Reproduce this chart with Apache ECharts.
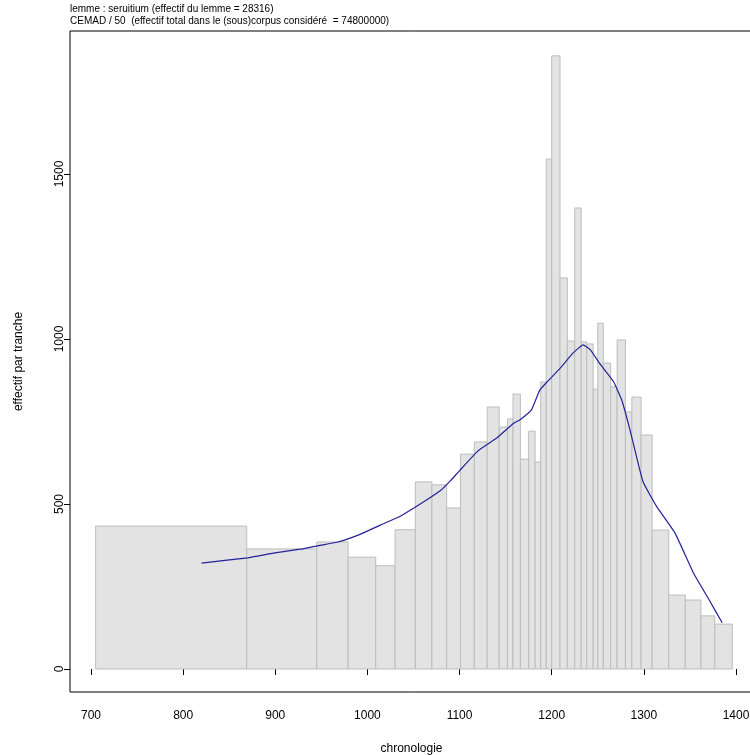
<!DOCTYPE html>
<html>
<head>
<meta charset="utf-8">
<script src="https://cdn.jsdelivr.net/npm/echarts@6/dist/echarts.min.js"></script>
<style>
html,body{margin:0;padding:0;background:#fff;}
#chart{width:750px;height:755px;}
</style>
</head>
<body>
<div id="chart"></div>
<script>
// Bin edges (years) of the histogram
var binEdges = [705, 869, 945, 979, 1009, 1030, 1052, 1070, 1086, 1101, 1116, 1130, 1143, 1152, 1158, 1166, 1175, 1182, 1188, 1194, 1200, 1209, 1217, 1225, 1232, 1238, 1245, 1250, 1256, 1264, 1271, 1280, 1287, 1297, 1309, 1327, 1345, 1362, 1377, 1396];
// Count per bin ("effectif par tranche")
var binCounts = [433, 364, 385, 339, 313, 422, 567, 558, 488, 651, 688, 794, 733, 758, 833, 636, 721, 627, 870, 1545, 1858, 1185, 994, 1397, 991, 985, 848, 1048, 927, 855, 997, 779, 824, 709, 421, 224, 209, 161, 136];
// Smoothed curve
var curveYears = [820, 870, 898, 927, 947, 967, 992, 1014, 1035, 1050, 1062, 1079, 1090, 1100, 1120, 1140, 1158, 1166, 1178, 1187, 1195, 1209, 1223, 1234, 1242, 1252, 1267, 1276, 1285, 1299, 1314, 1334, 1354, 1372, 1385];
var curveValues = [321, 337, 351, 363, 374, 384, 408, 436, 462, 487, 508, 540, 570, 601, 661, 699, 743, 756, 785, 845, 870, 911, 957, 982, 967, 926, 871, 815, 724, 568, 492, 411, 290, 204, 140];
// Tick labels
var xTicks = [700, 800, 900, 1000, 1100, 1200, 1300, 1400];
var yTicks = [0, 500, 1000, 1500];

var titleLine1 = "lemme : seruitium (effectif du lemme = 28316)";
var titleLine2 = "CEMAD / 50  (effectif total dans le (sous)corpus considéré  = 74800000)";

var histData = [];
for (var i = 0; i < binCounts.length; i++) {
  histData.push([binEdges[i], binEdges[i + 1], binCounts[i]]);
}
var curveData = curveYears.map(function (y, i) { return [y, curveValues[i]]; });

var font = '"Liberation Sans", Arial, sans-serif';
var plain = function (v) { return String(v); };
var chart = echarts.init(document.getElementById('chart'));
chart.setOption({
  animation: false,
  backgroundColor: '#fff',
  grid: {
    left: 70, top: 31, width: 683, height: 661,
    outerBoundsMode: 'none', containLabel: false,
    show: true, borderColor: '#000', borderWidth: 1, backgroundColor: 'transparent'
  },
  graphic: [
    { type: 'text', left: 70, top: 4, style: { text: titleLine1, fontSize: 10, fontFamily: font, fill: '#000' } },
    { type: 'text', left: 70, top: 16, style: { text: titleLine2, fontSize: 10, fontFamily: font, fill: '#000' } }
  ],
  xAxis: {
    type: 'value',
    min: 677.2, max: 677.2 + 683 / 0.9214,
    name: 'chronologie', nameLocation: 'middle', nameGap: 51,
    nameTextStyle: { fontSize: 12, fontFamily: font, color: '#000' },
    splitLine: { show: false },
    axisLine: { show: false },
    axisTick: { show: true, customValues: xTicks, length: 6, lineStyle: { color: '#000' } },
    axisLabel: { customValues: xTicks, formatter: plain, fontSize: 12, fontFamily: font, color: '#000', margin: 18 }
  },
  yAxis: {
    type: 'value',
    min: -69.7, max: 1933.3,
    name: 'effectif par tranche', nameLocation: 'middle', nameGap: 45,
    nameTextStyle: { fontSize: 12, fontFamily: font, color: '#000' },
    splitLine: { show: false },
    axisLine: { show: false },
    axisTick: { show: true, customValues: yTicks, length: 6, lineStyle: { color: '#000' } },
    axisLabel: { customValues: yTicks, formatter: plain, rotate: 90, fontSize: 12, fontFamily: font, color: '#000', margin: 4 }
  },
  series: [
    {
      type: 'custom',
      data: histData,
      encode: { x: [0, 1], y: 2 },
      renderItem: function (params, api) {
        var p0 = api.coord([api.value(0), api.value(2)]);
        var p1 = api.coord([api.value(1), 0]);
        return {
          type: 'rect',
          shape: { x: p0[0], y: p0[1], width: p1[0] - p0[0], height: p1[1] - p0[1] },
          style: { fill: '#e3e3e3', stroke: '#bdbdbd', lineWidth: 1 }
        };
      },
      z: 1
    },
    {
      type: 'line',
      data: curveData,
      smooth: 0.12,
      symbol: 'none',
      lineStyle: { color: '#22229a', width: 1.2 },
      z: 2
    }
  ]
});
</script>
</body>
</html>
